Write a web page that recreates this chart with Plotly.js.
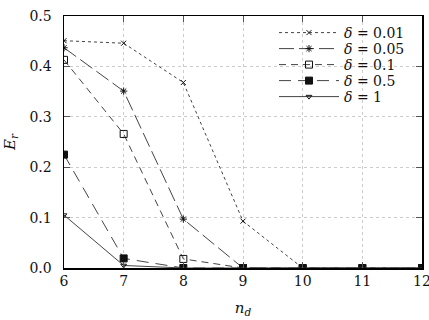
<!DOCTYPE html>
<html><head><meta charset="utf-8">
<script src="https://cdn.plot.ly/plotly-3.0.1.min.js"></script>
<style>body{margin:0;padding:0;background:#fff}#plot{width:429px;height:320px}</style>
</head><body><div id="plot"></div>
<script>
const nd = [6, 7, 8, 9, 10, 11, 12];
const labels = ["δ = 0.01", "δ = 0.05", "δ = 0.1", "δ = 0.5", "δ = 1"];
const er_001 = [0.451, 0.446, 0.368, 0.093, 0, 0, 0];
const er_005 = [0.437, 0.351, 0.097, 0, 0, 0, 0];
const er_01 = [0.413, 0.266, 0.018, 0, 0, 0, 0];
const er_05 = [0.225, 0.019, 0, 0, 0, 0, 0];
const er_1 = [0.105, 0.005, 0, 0, 0, 0, 0];

const series = [er_001, er_005, er_01, er_05, er_1];
const dashes = ["dot", "15px,5px", "7px,5px", "12px,7px", "solid"];
const symbols = ["x-thin-open", "asterisk-open", "square-open", "square", "triangle-down-open"];
const sizes = [5, 6, 7, 7, 5];
const fmtLabel = s => s.replace("δ", "<i>δ</i>");
const SERIF = "DejaVu Serif";
const legendNames = ["legend", "legend2", "legend3", "legend4", "legend5"];
const rowY = [33, 49, 65, 81, 97];

const traces = series.map((ys, i) => ({
  x: nd, y: ys, type: "scatter", mode: "lines+markers",
  name: fmtLabel(labels[i]), legend: legendNames[i],
  line: {color: "#444", width: 1, dash: dashes[i]},
  marker: {symbol: symbols[i], size: sizes[i], color: "#111", line: {color: "#111", width: 1}}
}));

const plotTop = 16, plotH = 252, plotL = 64, plotW = 358;
const layout = {
  width: 429, height: 320,
  margin: {l: plotL, r: 7, t: plotTop, b: 52},
  paper_bgcolor: "#fff", plot_bgcolor: "#fff",
  font: {family: SERIF, size: 14, color: "#111"},
  showlegend: true,
  xaxis: {range: [6, 12], dtick: 1, tick0: 6, showline: true, mirror: "ticks", linecolor: "#000", linewidth: 1.5,
    ticks: "inside", ticklen: 6, tickcolor: "#555", showgrid: true, gridcolor: "#ccc", griddash: "dot", gridwidth: 1,
    zeroline: false, tickfont: {family: SERIF, size: 14}, ticklabeloverflow: "allow",
    title: {text: "<i>n</i><sub><i>d</i></sub>", font: {family: SERIF, size: 15}, standoff: 14}},
  yaxis: {range: [0, 0.5], dtick: 0.1, tick0: 0, tickformat: ".1f", showline: true, mirror: "ticks", linecolor: "#000", linewidth: 1.5,
    ticks: "inside", ticklen: 6, tickcolor: "#555", showgrid: true, gridcolor: "#ccc", griddash: "dot", gridwidth: 1,
    zeroline: false, tickfont: {family: SERIF, size: 14}, ticklabelstandoff: 8,
    title: {text: "<i>E</i><sub><i>r</i></sub>", font: {family: SERIF, size: 15}, standoff: 10}}
};
legendNames.forEach((ln, i) => {
  layout[ln] = {x: (274 - plotL) / plotW, y: (plotTop + plotH - rowY[i]) / plotH, xanchor: "left", yanchor: "middle",
    bgcolor: "rgba(0,0,0,0)", borderwidth: 0, font: {family: SERIF, size: 14}, itemwidth: 60};
});
Plotly.newPlot("plot", traces, layout, {displayModeBar: false, staticPlot: true});
</script></body></html>
